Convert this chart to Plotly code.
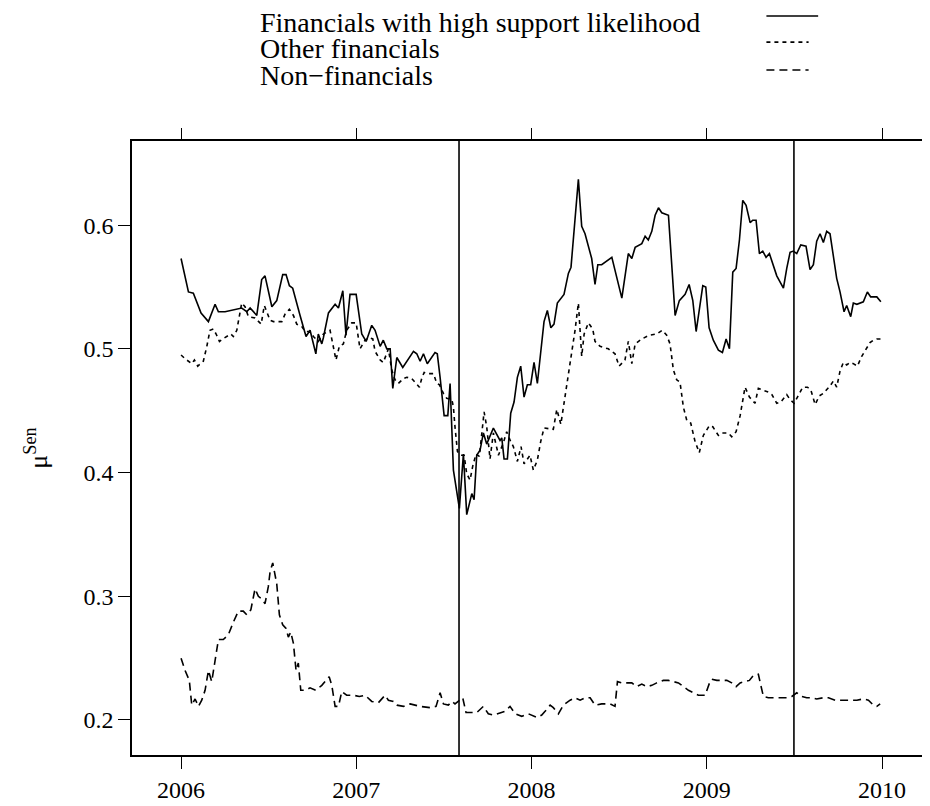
import plotly.graph_objects as go

# ---------------- data (decimal years, values) ----------------
high_t = [2006.000, 2006.042, 2006.070, 2006.114, 2006.156, 2006.194, 2006.213, 2006.251, 2006.346, 2006.375,
          2006.394, 2006.432, 2006.460, 2006.479, 2006.518, 2006.546, 2006.580, 2006.599, 2006.618, 2006.637,
          2006.679, 2006.713, 2006.736, 2006.769, 2006.783, 2006.803, 2006.812, 2006.841, 2006.879, 2006.898,
          2006.923, 2006.941, 2006.964, 2006.999, 2007.031, 2007.056, 2007.088, 2007.107, 2007.136, 2007.154,
          2007.174, 2007.193, 2007.208, 2007.231, 2007.265, 2007.326, 2007.345, 2007.364, 2007.383, 2007.405,
          2007.449, 2007.462, 2007.478, 2007.501, 2007.522, 2007.535, 2007.554, 2007.588, 2007.611, 2007.630,
          2007.659, 2007.672, 2007.687, 2007.706, 2007.725, 2007.744, 2007.782, 2007.820, 2007.830, 2007.843,
          2007.862, 2007.881, 2007.900, 2007.919, 2007.938, 2007.957, 2007.976, 2007.995, 2008.014, 2008.033,
          2008.071, 2008.090, 2008.110, 2008.128, 2008.147, 2008.185, 2008.210, 2008.225, 2008.267, 2008.286,
          2008.305, 2008.343, 2008.362, 2008.378, 2008.400, 2008.458, 2008.515, 2008.552, 2008.572, 2008.591,
          2008.629, 2008.648, 2008.666, 2008.686, 2008.705, 2008.724, 2008.743, 2008.781, 2008.819, 2008.843,
          2008.876, 2008.899, 2008.920, 2008.939, 2008.977, 2008.994, 2009.013, 2009.037, 2009.066, 2009.089,
          2009.110, 2009.129, 2009.148, 2009.167, 2009.186, 2009.205, 2009.224, 2009.247, 2009.262, 2009.281,
          2009.300, 2009.319, 2009.338, 2009.357, 2009.399, 2009.437, 2009.456, 2009.475, 2009.494, 2009.513,
          2009.536, 2009.566, 2009.589, 2009.608, 2009.627, 2009.646, 2009.665, 2009.684, 2009.703, 2009.741,
          2009.760, 2009.783, 2009.798, 2009.821, 2009.836, 2009.856, 2009.893, 2009.916, 2009.935, 2009.970,
          2009.993]
high_v = [0.573, 0.546, 0.545, 0.529, 0.522, 0.536, 0.530, 0.530, 0.533, 0.530,
          0.533, 0.527, 0.556, 0.559, 0.534, 0.539, 0.560, 0.560, 0.551, 0.549,
          0.527, 0.510, 0.515, 0.496, 0.512, 0.504, 0.509, 0.529, 0.536, 0.533,
          0.547, 0.511, 0.544, 0.544, 0.512, 0.506, 0.519, 0.515, 0.502, 0.507,
          0.500, 0.500, 0.468, 0.493, 0.485, 0.498, 0.496, 0.490, 0.496, 0.488,
          0.497, 0.496, 0.477, 0.446, 0.446, 0.472, 0.402, 0.371, 0.415, 0.366,
          0.383, 0.378, 0.414, 0.418, 0.432, 0.423, 0.436, 0.426, 0.428, 0.411,
          0.411, 0.448, 0.457, 0.477, 0.486, 0.461, 0.471, 0.471, 0.489, 0.472,
          0.522, 0.531, 0.517, 0.520, 0.537, 0.544, 0.561, 0.566, 0.637, 0.599,
          0.593, 0.573, 0.552, 0.568, 0.568, 0.574, 0.541, 0.577, 0.573, 0.582,
          0.585, 0.591, 0.588, 0.595, 0.608, 0.614, 0.610, 0.608, 0.527, 0.539,
          0.544, 0.552, 0.539, 0.514, 0.551, 0.550, 0.517, 0.507, 0.499, 0.497,
          0.508, 0.500, 0.562, 0.565, 0.588, 0.620, 0.616, 0.602, 0.604, 0.604,
          0.577, 0.579, 0.574, 0.577, 0.559, 0.549, 0.565, 0.578, 0.579, 0.577,
          0.584, 0.583, 0.564, 0.568, 0.587, 0.593, 0.586, 0.595, 0.593, 0.557,
          0.546, 0.530, 0.535, 0.526, 0.537, 0.536, 0.538, 0.546, 0.542, 0.542,
          0.538]

other_t = [2006.000, 2006.023, 2006.061, 2006.076, 2006.095, 2006.127, 2006.147, 2006.165, 2006.184, 2006.200,
           2006.219, 2006.238, 2006.284, 2006.298, 2006.318, 2006.331, 2006.346, 2006.365, 2006.384, 2006.422,
           2006.457, 2006.475, 2006.489, 2006.508, 2006.527, 2006.575, 2006.593, 2006.618, 2006.641, 2006.660,
           2006.689, 2006.708, 2006.736, 2006.755, 2006.783, 2006.812, 2006.850, 2006.869, 2006.884, 2006.903,
           2006.926, 2006.945, 2006.974, 2006.999, 2007.012, 2007.021, 2007.050, 2007.074, 2007.094, 2007.107,
           2007.136, 2007.154, 2007.183, 2007.202, 2007.221, 2007.240, 2007.269, 2007.288, 2007.316, 2007.335,
           2007.360, 2007.373, 2007.387, 2007.411, 2007.440, 2007.459, 2007.474, 2007.497, 2007.516, 2007.545,
           2007.554, 2007.563, 2007.577, 2007.596, 2007.615, 2007.630, 2007.649, 2007.664, 2007.683, 2007.702,
           2007.716, 2007.729, 2007.744, 2007.763, 2007.782, 2007.811, 2007.839, 2007.858, 2007.881, 2007.896,
           2007.919, 2007.940, 2007.957, 2007.991, 2008.010, 2008.033, 2008.052, 2008.071, 2008.124, 2008.144,
           2008.167, 2008.185, 2008.210, 2008.229, 2008.248, 2008.267, 2008.277, 2008.286, 2008.300, 2008.324,
           2008.349, 2008.362, 2008.391, 2008.438, 2008.476, 2008.499, 2008.533, 2008.552, 2008.572, 2008.591,
           2008.629, 2008.672, 2008.714, 2008.746, 2008.771, 2008.790, 2008.809, 2008.828, 2008.847, 2008.866,
           2008.886, 2008.908, 2008.933, 2008.957, 2008.980, 2009.015, 2009.034, 2009.066, 2009.085, 2009.123,
           2009.142, 2009.167, 2009.190, 2009.205, 2009.218, 2009.243, 2009.275, 2009.294, 2009.313, 2009.351,
           2009.371, 2009.399, 2009.422, 2009.456, 2009.475, 2009.498, 2009.517, 2009.547, 2009.574, 2009.593,
           2009.618, 2009.642, 2009.665, 2009.703, 2009.722, 2009.741, 2009.760, 2009.779, 2009.798, 2009.817,
           2009.836, 2009.859, 2009.884, 2009.909, 2009.931, 2009.950, 2009.970, 2009.993]
other_v = [0.495, 0.492, 0.488, 0.491, 0.486, 0.490, 0.502, 0.515, 0.516, 0.512,
           0.506, 0.508, 0.512, 0.510, 0.515, 0.527, 0.537, 0.534, 0.526, 0.525,
           0.520, 0.535, 0.530, 0.523, 0.522, 0.522, 0.528, 0.532, 0.527, 0.520,
           0.518, 0.514, 0.514, 0.510, 0.506, 0.512, 0.515, 0.502, 0.491, 0.502,
           0.504, 0.515, 0.521, 0.521, 0.510, 0.500, 0.507, 0.509, 0.508, 0.498,
           0.491, 0.489, 0.500, 0.483, 0.475, 0.472, 0.476, 0.477, 0.476, 0.473,
           0.469, 0.476, 0.481, 0.480, 0.480, 0.472, 0.471, 0.464, 0.460, 0.459,
           0.453, 0.437, 0.417, 0.414, 0.414, 0.399, 0.394, 0.405, 0.415, 0.413,
           0.432, 0.449, 0.437, 0.411, 0.432, 0.414, 0.424, 0.433, 0.425, 0.421,
           0.409, 0.421, 0.407, 0.414, 0.402, 0.410, 0.425, 0.436, 0.435, 0.451,
           0.439, 0.456, 0.480, 0.496, 0.515, 0.537, 0.515, 0.494, 0.512, 0.521,
           0.516, 0.506, 0.502, 0.500, 0.496, 0.486, 0.491, 0.506, 0.488, 0.504,
           0.508, 0.511, 0.512, 0.515, 0.511, 0.504, 0.483, 0.475, 0.473, 0.453,
           0.442, 0.440, 0.425, 0.416, 0.430, 0.438, 0.437, 0.430, 0.432, 0.432,
           0.429, 0.433, 0.446, 0.459, 0.469, 0.461, 0.456, 0.468, 0.467, 0.465,
           0.463, 0.456, 0.457, 0.463, 0.459, 0.456, 0.461, 0.469, 0.469, 0.467,
           0.455, 0.462, 0.464, 0.470, 0.474, 0.469, 0.482, 0.489, 0.487, 0.489,
           0.488, 0.486, 0.494, 0.500, 0.505, 0.507, 0.508, 0.508]

nonfin_t = [2006.000, 2006.023, 2006.047, 2006.061, 2006.080, 2006.099, 2006.118, 2006.137, 2006.156, 2006.175,
            2006.194, 2006.213, 2006.241, 2006.270, 2006.298, 2006.327, 2006.355, 2006.375, 2006.398, 2006.409,
            2006.422, 2006.441, 2006.460, 2006.479, 2006.498, 2006.508, 2006.523, 2006.546, 2006.561, 2006.580,
            2006.599, 2006.612, 2006.626, 2006.641, 2006.656, 2006.669, 2006.683, 2006.708, 2006.736, 2006.769,
            2006.803, 2006.845, 2006.860, 2006.879, 2006.898, 2006.917, 2006.945, 2006.983, 2007.017, 2007.050,
            2007.088, 2007.126, 2007.164, 2007.183, 2007.211, 2007.231, 2007.269, 2007.307, 2007.364, 2007.421,
            2007.455, 2007.478, 2007.497, 2007.525, 2007.545, 2007.563, 2007.592, 2007.607, 2007.626, 2007.687,
            2007.725, 2007.753, 2007.782, 2007.820, 2007.849, 2007.877, 2007.906, 2007.944, 2007.982, 2008.030,
            2008.058, 2008.077, 2008.106, 2008.124, 2008.153, 2008.181, 2008.220, 2008.248, 2008.277, 2008.305,
            2008.334, 2008.362, 2008.400, 2008.448, 2008.476, 2008.490, 2008.515, 2008.543, 2008.572, 2008.600,
            2008.629, 2008.657, 2008.686, 2008.714, 2008.752, 2008.781, 2008.809, 2008.838, 2008.866, 2008.895,
            2008.923, 2008.952, 2008.990, 2009.018, 2009.028, 2009.057, 2009.085, 2009.114, 2009.142, 2009.167,
            2009.190, 2009.218, 2009.243, 2009.266, 2009.294, 2009.308, 2009.323, 2009.351, 2009.389, 2009.418,
            2009.456, 2009.485, 2009.513, 2009.542, 2009.570, 2009.599, 2009.627, 2009.665, 2009.694, 2009.732,
            2009.779, 2009.817, 2009.856, 2009.893, 2009.922, 2009.950, 2009.970, 2009.989]
nonfin_v = [0.250, 0.240, 0.232, 0.212, 0.217, 0.211, 0.216, 0.224, 0.240, 0.231,
            0.248, 0.265, 0.265, 0.269, 0.279, 0.288, 0.288, 0.285, 0.289, 0.297,
            0.306, 0.300, 0.298, 0.294, 0.308, 0.320, 0.327, 0.310, 0.285, 0.277,
            0.274, 0.267, 0.271, 0.262, 0.240, 0.246, 0.224, 0.224, 0.226, 0.224,
            0.228, 0.235, 0.228, 0.211, 0.211, 0.223, 0.220, 0.220, 0.219, 0.220,
            0.215, 0.214, 0.220, 0.216, 0.215, 0.212, 0.211, 0.213, 0.211, 0.210,
            0.211, 0.222, 0.213, 0.212, 0.215, 0.213, 0.216, 0.218, 0.206, 0.206,
            0.211, 0.205, 0.204, 0.206, 0.207, 0.211, 0.205, 0.203, 0.205, 0.202,
            0.204, 0.207, 0.212, 0.210, 0.205, 0.212, 0.216, 0.218, 0.216, 0.218,
            0.218, 0.212, 0.213, 0.213, 0.211, 0.231, 0.230, 0.230, 0.230, 0.227,
            0.229, 0.227, 0.228, 0.230, 0.232, 0.232, 0.231, 0.230, 0.227, 0.224,
            0.222, 0.220, 0.220, 0.231, 0.233, 0.232, 0.232, 0.232, 0.230, 0.227,
            0.230, 0.231, 0.232, 0.236, 0.237, 0.228, 0.219, 0.218, 0.218, 0.218,
            0.218, 0.219, 0.222, 0.219, 0.218, 0.218, 0.217, 0.218, 0.218, 0.216,
            0.216, 0.216, 0.216, 0.217, 0.216, 0.212, 0.211, 0.213]

event_dates = [2007.586, 2009.497]
year_ticks = [2006, 2007, 2008, 2009, 2010]
year_labels = ["2006", "2007", "2008", "2009", "2010"]
y_ticks = [0.2, 0.3, 0.4, 0.5, 0.6]
y_labels = ["0.2", "0.3", "0.4", "0.5", "0.6"]
series_names = ["Financials with high support likelihood", "Other financials", "Non\u2212financials"]
series_dash = ["solid", "4px,4px", "8px,5px"]

FONT = "Liberation Serif"
X_RANGE = [2005.72, 2010.262]
Y_RANGE = [0.1717, 0.668]

fig = go.Figure()
for t, v, name, dash in [(high_t, high_v, series_names[0], series_dash[0]),
                         (other_t, other_v, series_names[1], series_dash[1]),
                         (nonfin_t, nonfin_v, series_names[2], series_dash[2])]:
    fig.add_trace(go.Scatter(x=t, y=v, mode="lines", name=name,
                             line=dict(color="black", width=1.6, dash=dash),
                             showlegend=False))

# invisible trace to carry the top tick axis
fig.add_trace(go.Scatter(x=[year_ticks[0], year_ticks[-1]], y=[y_ticks[0], y_ticks[-1]],
                         xaxis="x2", mode="markers", marker=dict(opacity=0),
                         hoverinfo="skip", showlegend=False))

for d in event_dates:
    fig.add_shape(type="line", xref="x", yref="paper", x0=d, x1=d, y0=0, y1=1,
                  line=dict(color="black", width=1.6))

# legend (text on the left, line sample on the right)
leg_y_text = [1.193, 1.150, 1.107]
leg_y_line = [1.2036, 1.161, 1.1156]
leg_x_end = [0.862, 0.850, 0.850]
for i, name in enumerate(series_names):
    fig.add_annotation(text=name, xref="paper", yref="paper", x=0.1595, y=leg_y_text[i],
                       xanchor="left", yanchor="middle", showarrow=False, borderpad=0,
                       font=dict(family=FONT, size=28, color="black"))
    fig.add_shape(type="line", xref="paper", yref="paper", x0=0.797, x1=leg_x_end[i],
                  y0=leg_y_line[i], y1=leg_y_line[i],
                  line=dict(color="black", width=1.6, dash=series_dash[i]))

fig.update_layout(
    width=922, height=798,
    margin=dict(l=124, r=0, t=133, b=51),
    paper_bgcolor="white", plot_bgcolor="white",
    font=dict(family=FONT, size=24, color="black"),
    xaxis=dict(range=X_RANGE, tickvals=year_ticks, ticktext=year_labels,
               ticks="outside", ticklen=12, tickwidth=1.4, tickcolor="black",
               showline=True, linecolor="black", linewidth=1.6, mirror=True,
               showgrid=False, zeroline=False, tickfont=dict(size=24)),
    xaxis2=dict(range=X_RANGE, overlaying="x", side="top", tickvals=year_ticks,
                showticklabels=False, ticks="outside", ticklen=12, tickwidth=1.4,
                tickcolor="black", showline=False, showgrid=False, zeroline=False),
    yaxis=dict(range=Y_RANGE, tickvals=y_ticks, ticktext=y_labels,
               ticks="outside", ticklen=12, tickwidth=1.4, tickcolor="black",
               showline=True, linecolor="black", linewidth=1.6, mirror=True,
               showgrid=False, zeroline=False, tickfont=dict(size=24),
               title=dict(text="\u03bc<sup>Sen</sup>", font=dict(size=26), standoff=28)),
)

fig.write_html("out.html")
